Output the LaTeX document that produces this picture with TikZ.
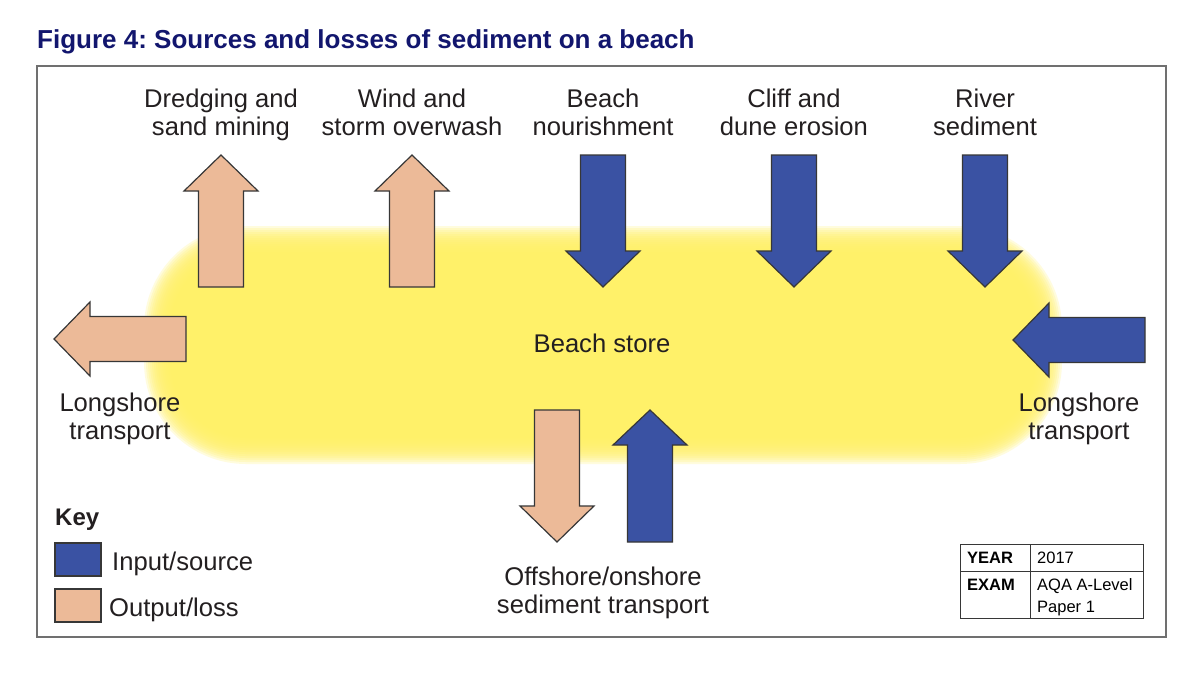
\documentclass[tikz,border=0pt]{standalone}
\usepackage{fontspec}
\setmainfont{Liberation Sans}
\frenchspacing
\definecolor{inputblue}{RGB}{58,82,163}
\definecolor{losspeach}{RGB}{236,186,152}
\definecolor{edgegray}{RGB}{55,55,55}
\definecolor{framegray}{RGB}{112,112,112}
\definecolor{titlenavy}{RGB}{18,22,110}
\definecolor{storeyellow}{RGB}{255,241,102}
\definecolor{textdark}{RGB}{35,31,32}
\tikzset{
  lossarrow/.style={draw=edgegray,line width=1.2pt,fill=losspeach,line join=miter},
  inputarrow/.style={draw=edgegray,line width=1.2pt,fill=inputblue,line join=miter},
  lbl/.style={text=textdark,align=center,anchor=base,inner sep=0pt,font=\fontsize{25.6}{28}\selectfont},
  cell/.style={text=black,anchor=base west,inner sep=0pt,align=left,font=\fontsize{16.5}{22}\selectfont}
}
\begin{document}
\begin{tikzpicture}[x=1pt,y=-1pt]
\useasboundingbox (0,0) rectangle (1200,675);
\fill[white] (0,0) rectangle (1200,675);
\node[anchor=base west,inner sep=0pt,text=titlenavy,font=\fontsize{26}{28}\selectfont\bfseries] (title) at (37,48) {Figure 4: Sources and losses of sediment on a beach};
\draw[framegray,line width=1.8pt] (37,66) rectangle (1166,637);
% beach store glow
\foreach \k in {0,...,13}
  \fill[storeyellow,fill opacity=0.21,rounded corners={102pt-2*\k pt}] (144+2*\k,226+2*\k) rectangle (1062-2*\k,464-2*\k);
\node[lbl] (store) at (602,352) {Beach store};
% losses
\draw[lossarrow] (221,155) -- ++(37,36) -- ++(-14.5,0) -- ++(0,96) -- ++(-45,0) -- ++(0,-96) -- ++(-14.5,0) -- cycle;
\draw[lossarrow] (412,155) -- ++(37,36) -- ++(-14.5,0) -- ++(0,96) -- ++(-45,0) -- ++(0,-96) -- ++(-14.5,0) -- cycle;
\draw[lossarrow] (54,339) -- ++(36,-37) -- ++(0,14.5) -- ++(96,0) -- ++(0,45) -- ++(-96,0) -- ++(0,14.5) -- cycle;
\draw[lossarrow] (557,542) -- ++(37,-36) -- ++(-14.5,0) -- ++(0,-96) -- ++(-45,0) -- ++(0,96) -- ++(-14.5,0) -- cycle;
% inputs
\draw[inputarrow] (603,287) -- ++(37,-36) -- ++(-14.5,0) -- ++(0,-96) -- ++(-45,0) -- ++(0,96) -- ++(-14.5,0) -- cycle;
\draw[inputarrow] (794,287) -- ++(37,-36) -- ++(-14.5,0) -- ++(0,-96) -- ++(-45,0) -- ++(0,96) -- ++(-14.5,0) -- cycle;
\draw[inputarrow] (985,287) -- ++(37,-36) -- ++(-14.5,0) -- ++(0,-96) -- ++(-45,0) -- ++(0,96) -- ++(-14.5,0) -- cycle;
\draw[inputarrow] (1013,340) -- ++(36,-37) -- ++(0,14.5) -- ++(96,0) -- ++(0,45) -- ++(-96,0) -- ++(0,14.5) -- cycle;
\draw[inputarrow] (650,410) -- ++(37,35) -- ++(-14.5,0) -- ++(0,97) -- ++(-45,0) -- ++(0,-97) -- ++(-14.5,0) -- cycle;
% labels (base = last line)
\node[lbl] (dredging) at (221,135) {Dredging and\\sand mining};
\node[lbl] (wind) at (412,135) {Wind and\\storm overwash};
\node[lbl] (nourish) at (603,135) {Beach\\nourishment};
\node[lbl] (cliff) at (794,135) {Cliff and\\dune erosion};
\node[lbl] (river) at (985,135) {River\\sediment};
\node[lbl] (longleft) at (120,439) {Longshore\\transport};
\node[lbl] (longright) at (1079,439) {Longshore\\transport};
\node[lbl] (offshore) at (603,613) {Offshore/onshore\\sediment transport};
% key
\node[anchor=base west,inner sep=0pt,text=textdark,font=\fontsize{24}{28}\selectfont\bfseries] (key) at (55,525) {Key};
\draw[draw=edgegray,line width=1.2pt,fill=inputblue] (55,543) rectangle (101,576);
\draw[draw=edgegray,line width=1.2pt,fill=losspeach] (55,589) rectangle (101,622);
\node[lbl,anchor=base west] (keyin) at (112,570) {Input/source};
\node[lbl,anchor=base west] (keyout) at (109,616) {Output/loss};
% exam table
\draw[edgegray,line width=1pt] (960,544) rectangle (1143,618);
\draw[edgegray,line width=1pt] (1030,544) -- (1030,618);
\draw[edgegray,line width=1pt] (960,571) -- (1143,571);
\node[cell,font=\fontsize{16.5}{22}\selectfont\bfseries] (yearhead) at (967,563) {YEAR};
\node[cell] (yearval) at (1037,563) {2017};
\node[cell,font=\fontsize{16.5}{22}\selectfont\bfseries] (examhead) at (967,590) {EXAM};
\node[cell] (examval) at (1037,612) {AQA A-Level\\Paper 1};
\end{tikzpicture}
\end{document}
